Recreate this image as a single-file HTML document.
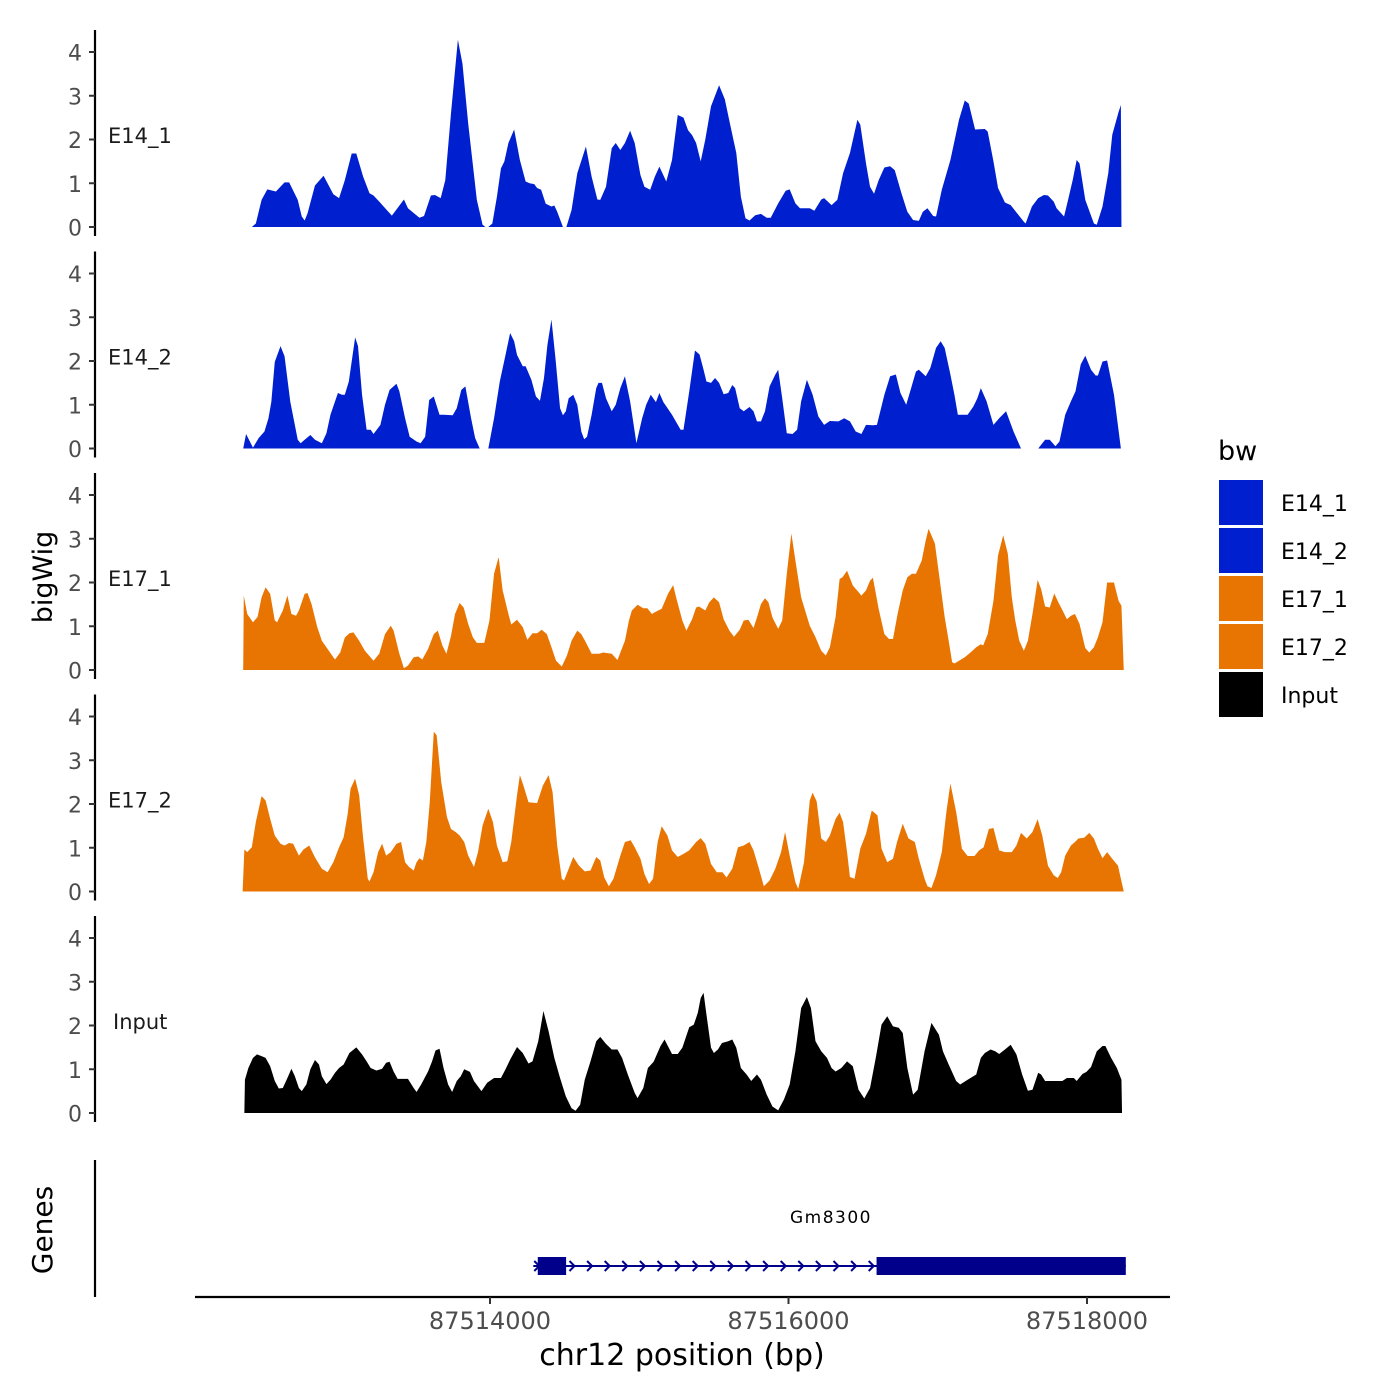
<!DOCTYPE html>
<html><head><meta charset="utf-8"><style>
html,body{margin:0;padding:0;background:#fff;}
svg{display:block;font-family:"DejaVu Sans","Liberation Sans",sans-serif;}
</style></head><body>
<svg id="chart" width="1400" height="1400" viewBox="0 0 1400 1400" xmlns="http://www.w3.org/2000/svg">
<rect x="0" y="0" width="1400" height="1400" fill="#fff"/>
<g id="tracks"></g>
<g id="axes"></g>
</svg>
<script>
// bigWig bins: position = regionStart + bin * binSize (bp)
const regionStart = 87512258;
const binSize = 3.846;
const trackNames = ["E14_1","E14_2","E17_1","E17_2","Input"];
const trackColors = ["#0020CF","#0020CF","#E87502","#E87502","#000000"];
const xTicks = [87514000, 87516000, 87518000];
const yTicks = [0,1,2,3,4];

const e14_1_bins = [38,45,55,65,80,95,103,118,125,130,135,148,163,180,190,200,212,220,232,243,250,260,282,303,310,330,338,350,357,367,375,385,397,405,415,430,440,445,450,457,465,472,478,485,495,505,515,522,530,535,542,550,560,565,570,580,586,595,605,620,630,640,645,655,665,672,680,688,697,705,715,722,732,740,748,760,770,780,790,798,805,812,820,828,838,852,862,872,882,890,898,905,915,925,935,942,955,968,975,985,993,1010,1018,1030,1035,1048,1058,1068,1080,1093,1098,1108,1115,1122,1130,1140,1150,1158,1170,1180,1190,1200,1207,1215,1225,1230,1240,1255,1270,1280,1287,1298,1315,1320,1330,1338,1350,1360,1383,1386,1397,1408,1418,1425,1435,1440,1453,1460,1468,1475,1480,1490,1505,1510,1520,1530,1537,1548,1552,1553];
const e14_1_vals = [0,.08,.62,.86,.81,1.02,1.02,.62,.24,.15,.31,.95,1.17,.75,.66,1.07,1.68,1.68,1.15,.77,.72,.58,.26,.63,.43,.21,.25,.72,.73,.66,1.07,2.6,4.28,3.73,2.36,.62,.05,0,0,.08,.69,1.34,1.5,1.92,2.23,1.53,1.04,1,.98,.89,.85,.53,.47,.49,.35,0,0,.39,1.23,1.84,1.15,.63,.62,.92,1.8,1.92,1.76,1.92,2.2,1.92,1.19,.92,.85,1.15,1.38,1.04,1.53,2.56,2.5,2.21,2.1,1.92,1.5,2,2.76,3.24,2.92,2.3,1.69,.69,.2,.15,.27,.3,.21,.21,.54,.83,.86,.54,.43,.43,.37,.63,.66,.5,.62,1.23,1.69,2.45,2.34,1.45,.92,.76,1.07,1.36,1.39,1.3,.76,.35,.16,.14,.35,.43,.25,.24,.85,1.53,2.45,2.89,2.82,2.23,2.24,2.18,1.5,.89,.56,.5,.12,.08,.47,.66,.73,.72,.58,.43,.24,.62,1.07,1.53,1.45,.62,.08,.05,.47,1.23,2.11,2.63,2.79,0];

const e14_2_bins = [23,28,40,50,60,67,72,78,88,95,105,118,123,130,140,148,160,168,175,182,188,195,200,207,218,223,230,238,245,250,262,270,278,290,295,305,313,325,332,340,347,355,365,372,388,395,403,410,420,427,435,450,460,470,480,488,495,500,510,515,525,533,540,547,553,560,567,575,580,585,590,598,605,612,617,622,630,638,642,648,655,665,672,680,688,697,708,718,725,733,742,748,755,770,785,790,800,810,818,825,830,838,845,852,860,868,875,880,888,895,905,912,918,925,932,940,950,955,962,970,980,988,995,1005,1015,1025,1035,1045,1060,1070,1080,1090,1100,1108,1120,1127,1140,1150,1160,1168,1178,1185,1195,1200,1212,1220,1230,1238,1245,1255,1262,1268,1285,1295,1302,1308,1318,1330,1340,1352,1365,1378,1408,1420,1428,1438,1445,1455,1465,1473,1482,1490,1500,1508,1512,1520,1528,1540,1552];
const e14_2_vals = [0,.33,.02,.24,.39,.69,1.07,1.98,2.34,2.11,1.07,.2,.12,.2,.31,.2,.12,.35,.77,1.04,1.27,1.23,1.23,1.53,2.54,2.34,1.23,.43,.43,.33,.54,1,1.34,1.48,1.31,.69,.27,.16,.12,.27,1.11,1.19,.77,.77,.76,.92,1.34,1.42,.69,.24,0,0,.69,1.53,2.14,2.64,2.45,2.14,1.88,1.88,1.57,1.19,1.09,1.61,2.37,2.95,2.06,.92,.76,.85,1.15,1.23,1,.39,.21,.27,.77,1.38,1.5,1.5,1.15,.85,1,1.38,1.65,1.08,.12,.69,1,1.23,1.06,1.27,1.06,.77,.43,.43,1.3,2.24,2.15,1.8,1.53,1.5,1.61,1.5,1.24,1.27,1.45,1.38,.92,.85,.95,.85,.62,.62,.85,1.42,1.69,1.8,1.15,.35,.33,.43,1.08,1.57,1.23,.73,.54,.63,.62,.69,.62,.39,.33,.54,.53,.54,1.23,1.65,1.69,1.27,1,1.31,1.76,1.8,1.65,1.84,2.3,2.45,2.3,1.69,1.23,.77,.77,.96,1.15,1.38,1.08,.54,.69,.85,.39,0,0,.2,.2,.05,.16,.77,1.08,1.31,1.92,2.12,1.8,1.67,1.67,1.99,2.01,1.23,0];

const e17_1_bins = [23,24,30,40,48,55,62,70,78,82,92,100,107,115,120,130,135,142,152,160,170,180,183,192,200,208,215,225,235,250,260,270,280,285,295,303,310,320,328,335,345,355,362,370,377,385,392,400,407,415,423,430,443,452,460,468,475,485,490,500,510,518,527,535,543,552,560,568,578,587,595,605,612,620,630,643,650,665,675,688,695,700,710,720,727,735,740,752,763,772,778,788,795,805,812,817,828,835,843,852,860,870,878,888,895,903,912,918,925,932,938,945,955,962,970,978,985,995,1010,1020,1030,1038,1045,1055,1062,1067,1075,1085,1095,1100,1108,1115,1120,1130,1140,1148,1155,1163,1172,1180,1188,1195,1205,1212,1217,1228,1235,1245,1252,1258,1262,1270,1280,1290,1300,1308,1312,1320,1330,1338,1347,1355,1362,1368,1375,1383,1390,1398,1407,1413,1420,1428,1436,1443,1450,1458,1465,1472,1480,1490,1497,1505,1512,1520,1528,1540,1548,1553,1557];
const e17_1_vals = [0,1.7,1.28,1.09,1.21,1.66,1.89,1.74,1.13,1.09,1.36,1.7,1.28,1.24,1.36,1.74,1.76,1.51,.98,.67,.48,.29,.24,.4,.74,.84,.86,.67,.44,.21,.37,.82,1.01,.9,.37,.04,.1,.29,.31,.24,.48,.82,.9,.56,.37,.78,1.28,1.53,1.43,1.05,.75,.62,.62,1.13,2.2,2.58,1.82,1.28,1.04,1.15,.98,.69,.84,.84,.92,.82,.52,.21,.08,.33,.67,.9,.82,.63,.37,.37,.4,.37,.23,.67,1.13,1.36,1.49,1.41,1.41,1.28,1.32,1.4,1.74,1.94,1.62,1.13,.9,1.16,1.43,1.45,1.36,1.55,1.66,1.55,1.16,.9,.76,.92,1.13,1.15,.96,1.2,1.51,1.64,1.55,1.2,.94,1.13,2.2,3.12,2.5,1.66,1.01,.75,.44,.33,.52,1.21,2.08,2.12,2.27,1.93,1.78,1.7,1.82,2.04,2.11,1.4,.82,.71,.71,1.28,1.82,2.12,2.2,2.2,2.5,2.96,3.23,2.89,2.2,1.21,.67,.18,.15,.21,.29,.4,.52,.59,.56,.82,1.58,2.62,3.08,2.66,1.66,1.13,.67,.44,.67,1.28,2.06,1.85,1.45,1.43,1.75,1.55,1.37,1.16,1.24,1.28,1.05,.5,.4,.52,.75,1.09,2,2,1.58,1.47,0];

const e17_2_bins = [22,25,30,38,45,55,62,70,78,88,95,103,110,120,128,138,148,160,170,180,190,198,205,210,218,225,232,240,243,250,258,265,272,280,290,298,305,312,320,325,330,336,342,348,355,360,368,378,385,393,400,408,415,425,432,440,450,458,465,475,483,490,500,505,512,520,535,545,555,562,570,578,582,590,598,608,618,628,638,645,652,660,668,680,688,698,705,715,722,730,737,745,752,762,770,780,790,800,812,820,828,838,848,858,865,875,885,895,905,912,920,930,940,950,960,967,975,985,990,1000,1010,1015,1022,1030,1038,1045,1055,1062,1068,1075,1080,1088,1098,1108,1118,1128,1135,1145,1155,1162,1172,1182,1193,1200,1210,1215,1222,1230,1240,1248,1255,1265,1275,1285,1297,1305,1313,1322,1330,1340,1350,1362,1370,1378,1388,1398,1407,1415,1425,1435,1442,1448,1455,1465,1472,1478,1488,1497,1505,1512,1520,1528,1537,1547,1552,1557];
const e17_2_vals = [0,.96,.9,1.01,1.59,2.18,2.08,1.66,1.28,1.09,1.05,1.11,1.09,.82,.96,1.05,.78,.52,.44,.67,1.01,1.24,1.77,2.35,2.58,2.2,1.21,.29,.23,.44,.9,1.09,.82,.9,1.09,1.13,.67,.56,.48,.67,.76,.71,1.13,2.04,3.65,3.57,2.5,1.7,1.43,1.36,1.28,1.13,.82,.56,.9,1.51,1.89,1.59,1.05,.67,.69,1.13,2.2,2.66,2.39,2.04,2.02,2.42,2.66,2.27,1.05,.29,.25,.52,.79,.59,.46,.48,.79,.71,.32,.12,.29,.82,1.13,1.17,1.01,.75,.4,.17,.29,1.13,1.49,1.28,.94,.79,.86,.94,1.13,1.22,1.09,.63,.44,.44,.32,.52,1.01,1.05,1.13,.94,.59,.12,.25,.52,.9,1.36,.82,.21,.06,.67,2.08,2.26,2.06,1.21,1.13,1.28,1.66,1.8,1.59,.9,.33,.29,.98,1.32,1.85,1.74,.98,.67,.75,1.13,1.55,1.21,1.13,.75,.29,.12,.08,.37,.9,1.82,2.47,1.82,.98,.81,.81,.94,1.01,1.43,1.45,.94,.9,.9,1.05,1.34,1.21,1.36,1.65,1.28,.59,.37,.31,.44,.82,1.05,1.13,1.21,1.23,1.34,1.21,.98,.76,.9,.75,.59,.29,0];

const input_bins = [25,26,32,40,47,55,62,70,78,85,92,100,107,113,120,125,133,140,148,155,160,168,175,183,190,198,208,220,230,238,245,255,265,272,278,285,292,310,320,325,333,345,352,358,365,372,380,387,395,402,408,418,425,438,448,460,472,480,488,500,510,520,527,537,546,555,565,575,585,595,602,610,618,628,638,645,655,665,675,683,693,705,710,720,728,738,750,757,770,780,788,800,808,815,820,825,830,838,843,850,857,868,875,882,890,900,908,918,925,935,945,955,965,975,985,995,1005,1012,1020,1030,1040,1048,1055,1065,1075,1085,1095,1105,1115,1125,1135,1145,1155,1165,1172,1180,1190,1198,1210,1222,1235,1242,1252,1265,1272,1285,1300,1308,1315,1325,1333,1340,1350,1360,1370,1380,1390,1398,1408,1413,1420,1450,1458,1470,1475,1485,1492,1500,1510,1520,1525,1535,1545,1553,1554];
const input_vals = [0,.76,1.03,1.26,1.34,1.3,1.26,1.07,.73,.56,.57,.8,1.01,.84,.57,.5,.65,1,1.21,1.11,.84,.66,.76,.92,1.03,1.11,1.37,1.5,1.34,1.18,1.03,.97,1.01,1.15,1.17,.95,.78,.78,.57,.48,.65,.95,1.18,1.43,1.47,1.03,.65,.48,.73,.84,1,.94,.73,.5,.69,.8,.8,1,1.22,1.51,1.37,1.13,1.18,1.64,2.33,1.87,1.26,.8,.38,.11,.05,.19,.76,1.18,1.64,1.74,1.58,1.45,1.45,1.26,.88,.46,.34,.57,1.03,1.17,1.53,1.68,1.35,1.35,1.49,1.96,2.02,2.29,2.63,2.75,2.25,1.49,1.37,1.45,1.6,1.64,1.68,1.49,1.03,.88,.73,.88,.76,.42,.15,.06,.31,.65,1.41,2.4,2.65,2.4,1.64,1.41,1.26,1.03,.95,1.03,1.18,1.07,.53,.33,.57,1.26,2.02,2.21,1.98,1.95,1.83,1.03,.42,.53,1.41,2.06,1.79,1.41,1.11,.73,.65,.76,.88,1.26,1.37,1.45,1.41,1.35,1.45,1.56,1.34,.88,.51,.53,.92,.88,.73,.73,.8,.8,.73,.89,.94,1.05,1.41,1.53,1.53,1.26,1.03,.76,0];

const seriesBins = [e14_1_bins, e14_2_bins, e17_1_bins, e17_2_bins, input_bins];
const seriesVals = [e14_1_vals, e14_2_vals, e17_1_vals, e17_2_vals, input_vals];

// gene model
const geneName = "Gm8300";
const geneStart = 87514290, geneEnd = 87518260;
const exonStarts = [87514320, 87516590];
const exonEnds = [87514510, 87518260];

const NS = "http://www.w3.org/2000/svg";
const xScale = bp => 490 + (bp - 87514000) * 298.5 / 2000;
const panelZero = i => 227 + i * 221.5;
const yScale = (i, v) => panelZero(i) - v * 43.75;
function mk(tag, attrs, parent, text){
  const e = document.createElementNS(NS, tag);
  for (const k in attrs) e.setAttribute(k, attrs[k]);
  if (text !== undefined) e.textContent = text;
  parent.appendChild(e);
  return e;
}
const tracks = document.getElementById('tracks');
const axes = document.getElementById('axes');

for (let i = 0; i < 5; i++) {
  const bins = seriesBins[i], vals = seriesVals[i];
  let d = "M" + xScale(regionStart + bins[0]*binSize).toFixed(2) + "," + panelZero(i);
  for (let j = 0; j < bins.length; j++) {
    d += "L" + xScale(regionStart + bins[j]*binSize).toFixed(2) + "," + yScale(i, vals[j]).toFixed(2);
  }
  d += "L" + xScale(regionStart + bins[bins.length-1]*binSize).toFixed(2) + "," + panelZero(i) + "Z";
  const p = mk('path', {d: d, fill: trackColors[i]}, tracks);
  
  

  const top = panelZero(i) - 197, bot = panelZero(i) + 9;
  const ax = mk('line', {x1: 95, x2: 95, y1: top, y2: bot, stroke: '#000', 'stroke-width': 2.2}, axes);
  
  
  for (const t of yTicks) {
    const y = yScale(i, t);
    const tk = mk('line', {x1: 89, x2: 95, y1: y, y2: y, stroke: '#333', 'stroke-width': 2}, axes);
    
    
    const tl = mk('text', {x: 82, y: y + 8.5, 'text-anchor': 'end', 'font-size': 22, fill: '#4d4d4d'}, axes, String(t));
    
    
  }
  const lx = trackNames[i] === 'Input' ? 113 : 108;
  const lab = mk('text', {x: lx, y: panelZero(i) - 84, 'font-size': 21, fill: '#1a1a1a'}, axes, trackNames[i]);
  
  
}

const xa = mk('line', {x1: 195, x2: 1170, y1: 1297, y2: 1297, stroke: '#000', 'stroke-width': 2.2}, axes);


for (const t of xTicks) {
  const x = xScale(t);
  const tk = mk('line', {x1: x, x2: x, y1: 1297, y2: 1304, stroke: '#333', 'stroke-width': 2}, axes);
  
  
  const tl = mk('text', {x: x, y: 1329, 'text-anchor': 'middle', 'font-size': 24, fill: '#4d4d4d'}, axes, String(t));
  
  
}

const g = mk('g', {}, tracks);


const gy = 1266;
mk('line', {x1: xScale(geneStart), x2: xScale(geneEnd), y1: gy, y2: gy, stroke: '#00008B', 'stroke-width': 2}, g);
for (let x = xScale(geneStart) + 4; x < xScale(exonStarts[1]); x += 17.6) {
  mk('path', {d: `M${x-3},${gy-5}L${x+2},${gy}L${x-3},${gy+5}`, fill: 'none', stroke: '#00008B', 'stroke-width': 2}, g);
}
for (let k = 0; k < exonStarts.length; k++) {
  const ex = mk('rect', {x: xScale(exonStarts[k]), y: gy - 9, width: xScale(exonEnds[k]) - xScale(exonStarts[k]), height: 18, fill: '#00008B'}, g);
  
  
}
const gl = mk('text', {x: 831, y: 1223, 'text-anchor': 'middle', 'font-size': 17, 'letter-spacing': 1.5, fill: '#000'}, g, geneName);


</script>
<svg style="position:absolute;left:0;top:0" width="1400" height="1400" xmlns="http://www.w3.org/2000/svg">
<g font-family="DejaVu Sans, Liberation Sans, sans-serif">
<line x1="95" y1="1160" x2="95" y2="1297" stroke="#000" stroke-width="2.2"/>
<text x="52" y="577" transform="rotate(-90 52 577)" text-anchor="middle" font-size="27" fill="#000">bigWig</text>
<text x="52" y="1230" transform="rotate(-90 52 1230)" text-anchor="middle" font-size="28" fill="#000">Genes</text>
<text x="682" y="1365" text-anchor="middle" font-size="30" fill="#000">chr12 position (bp)</text>
<text x="1218" y="460" font-size="27" fill="#000">bw</text>
<rect x="1219" y="480" width="44" height="45" fill="#0020CF"/>
<text x="1281" y="511" font-size="22" fill="#000">E14_1</text>
<rect x="1219" y="528" width="44" height="45" fill="#0020CF"/>
<text x="1281" y="559" font-size="22" fill="#000">E14_2</text>
<rect x="1219" y="576" width="44" height="45" fill="#E87502"/>
<text x="1281" y="607" font-size="22" fill="#000">E17_1</text>
<rect x="1219" y="624" width="44" height="45" fill="#E87502"/>
<text x="1281" y="655" font-size="22" fill="#000">E17_2</text>
<rect x="1219" y="672" width="44" height="45" fill="#000000"/>
<text x="1281" y="703" font-size="22" fill="#000">Input</text>
</g>
</svg>
</body></html>
